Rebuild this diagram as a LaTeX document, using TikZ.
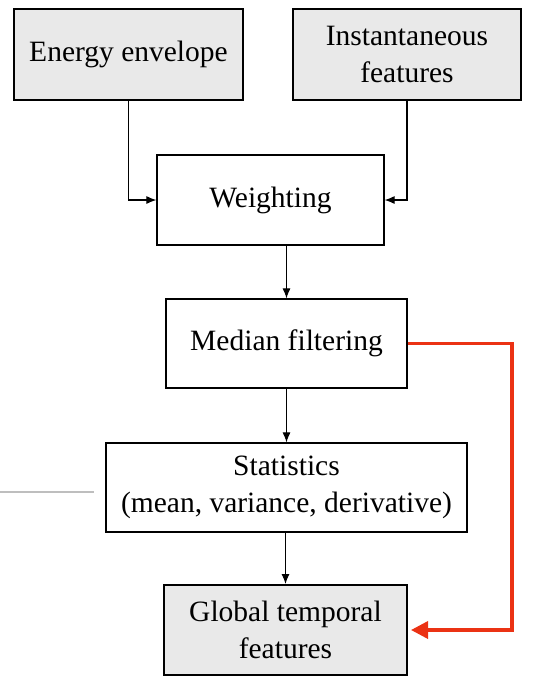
\documentclass[tikz,border=0pt]{standalone}
\usepackage{fontspec}
\setmainfont{Liberation Serif}
\usetikzlibrary{arrows.meta}
\definecolor{boxgray}{RGB}{233,233,233}
\definecolor{red}{RGB}{235,50,20}
\definecolor{stubgray}{RGB}{190,190,190}

\begin{document}
\begin{tikzpicture}[x=1pt, y=-1pt,
  box/.style={draw, line width=1.2pt, align=center, inner sep=0pt,
    font=\fontsize{29.5}{37}\selectfont},
  graybox/.style={box, fill=boxgray, line width=2pt},
  arr/.style={-{Latex[length=10pt,width=8pt]}, line width=1.1pt}]
  \useasboundingbox (0,0) rectangle (553,681);
  %% Input boxes
  \node[graybox, minimum width=229pt, minimum height=91pt] (energy) at (128.5,54.5) {Energy envelope};
  \node[graybox, minimum width=228pt, minimum height=91pt] (inst) at (407,54.5) {Instantaneous\\features};
  %% Processing chain
  \node[box, minimum width=227pt, minimum height=90pt] (weight) at (270.5,200) {Weighting};
  \node[box, minimum width=241pt, minimum height=89pt] (median) at (286.5,343.5) {Median filtering};
  \node[box, minimum width=361pt, minimum height=89pt] (stats) at (286.5,487.5) {Statistics\\(mean, variance, derivative)};
  \node[graybox, minimum width=243pt, minimum height=90pt] (global) at (285.5,630) {Global temporal\\features};

  %% Arrows
  \draw[arr] (energy.south) |- (weight.west);
  \draw[arr] (inst.south) |- (weight.east);
  \draw[arr] (median.north |- weight.south) -- (median.north);
  \draw[arr] (median.south) -- (median.south |- stats.north);
  \draw[arr] (global.north |- stats.south) -- (global.north);
  %% Bypass
  \draw[red, line width=3.5pt, -{Triangle[length=17pt,width=17pt]}] (median.east) -- (512,343.5) |- ([xshift=3pt]global.east);

  %% Stub on the left
  \coordinate (stub) at (0,492);
  \draw[stubgray, line width=1.5pt] (stub) -- ([xshift=-11pt]stats.west |- stub);
\end{tikzpicture}
\end{document}
